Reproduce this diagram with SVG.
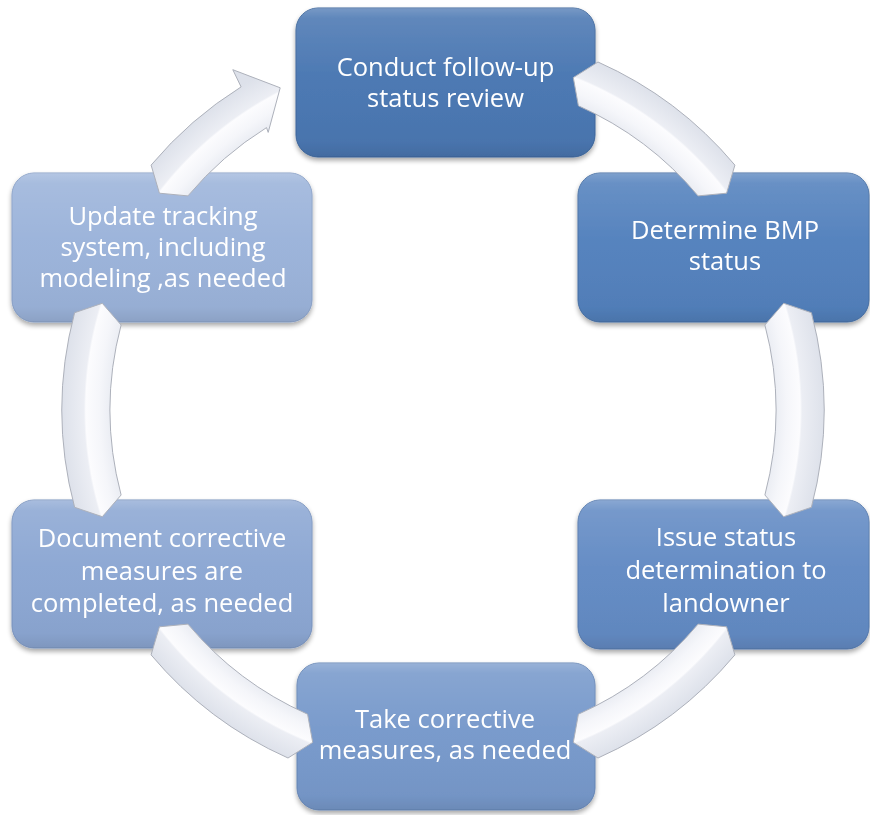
<svg xmlns="http://www.w3.org/2000/svg" width="870" height="815" viewBox="0 0 870 815">
  <defs>
    <linearGradient id="gloss" x1="0" y1="0" x2="0" y2="1">
      <stop offset="0" stop-color="#ffffff" stop-opacity="0.25"/>
      <stop offset="0.07" stop-color="#ffffff" stop-opacity="0.12"/>
      <stop offset="0.45" stop-color="#ffffff" stop-opacity="0.02"/>
      <stop offset="0.9" stop-color="#000000" stop-opacity="0.03"/>
      <stop offset="1" stop-color="#000000" stop-opacity="0.10"/>
    </linearGradient>
    <radialGradient id="ring" gradientUnits="userSpaceOnUse" cx="443" cy="410" r="382">
      <stop offset="0.86" stop-color="#e7eaf1"/>
      <stop offset="0.90" stop-color="#f5f6fa"/>
      <stop offset="0.935" stop-color="#fcfcfe"/>
      <stop offset="0.94" stop-color="#eceef4"/>
      <stop offset="1" stop-color="#dde1ea"/>
    </radialGradient>
    <filter id="shadow" x="-10%" y="-10%" width="120%" height="130%">
      <feGaussianBlur in="SourceAlpha" stdDeviation="2.5"/>
      <feOffset dx="0" dy="3" result="b"/>
      <feComponentTransfer><feFuncA type="linear" slope="0.35"/></feComponentTransfer>
      <feMerge><feMergeNode/><feMergeNode in="SourceGraphic"/></feMerge>
    </filter>
  </defs>
  <style>
    .box { stroke-width: 1; }
    .gl { fill: url(#gloss); stroke: none; }
    .lbl { font-family: "Open Sans", "Noto Sans", "Liberation Sans", sans-serif; font-size: 25.5px; fill: #ffffff; text-anchor: middle; }
    .arc { fill: url(#ring); stroke: #adb1bb; stroke-width: 1; stroke-linejoin: round; }
  </style>

  <g id="node-conduct" filter="url(#shadow)">
    <rect class="box" x="296" y="8" width="299" height="149" rx="22" fill="#4a77b2" stroke="#3e679c"/>
    <rect class="gl" x="296" y="8" width="299" height="149" rx="22"/>
    <text class="lbl" x="445.5" y="76">Conduct follow-up</text>
    <text class="lbl" x="445.5" y="107">status review</text>
  </g>

  <g id="node-determine" filter="url(#shadow)">
    <rect class="box" x="578" y="173" width="291" height="149" rx="22" fill="#5381bd" stroke="#466fa4"/>
    <rect class="gl" x="578" y="173" width="291" height="149" rx="22"/>
    <text class="lbl" x="725" y="239">Determine BMP</text>
    <text class="lbl" x="725" y="270">status</text>
  </g>

  <g id="node-issue" filter="url(#shadow)">
    <rect class="box" x="578" y="500" width="291" height="149" rx="22" fill="#638bc4" stroke="#5479ad"/>
    <rect class="gl" x="578" y="500" width="291" height="149" rx="22"/>
    <text class="lbl" x="726" y="546">Issue status</text>
    <text class="lbl" x="726" y="579">determination to</text>
    <text class="lbl" x="726" y="612">landowner</text>
  </g>

  <g id="node-take" filter="url(#shadow)">
    <rect class="box" x="297" y="663" width="298" height="147" rx="22" fill="#7799cb" stroke="#6686b6"/>
    <rect class="gl" x="297" y="663" width="298" height="147" rx="22"/>
    <text class="lbl" x="445" y="728">Take corrective</text>
    <text class="lbl" x="445" y="759">measures, as needed</text>
  </g>

  <g id="node-document" filter="url(#shadow)">
    <rect class="box" x="12" y="500" width="300" height="148" rx="22" fill="#8ca7d3" stroke="#7a94bf"/>
    <rect class="gl" x="12" y="500" width="300" height="148" rx="22"/>
    <text class="lbl" x="162" y="547">Document corrective</text>
    <text class="lbl" x="162" y="580">measures are</text>
    <text class="lbl" x="162" y="612">completed, as needed</text>
  </g>

  <g id="node-update" filter="url(#shadow)">
    <rect class="box" x="12" y="173" width="300" height="149" rx="22" fill="#9bb3da" stroke="#88a0c7"/>
    <rect class="gl" x="12" y="173" width="300" height="149" rx="22"/>
    <text class="lbl" x="163" y="225">Update tracking</text>
    <text class="lbl" x="163" y="256">system, including</text>
    <text class="lbl" x="163" y="287">modeling ,as needed</text>
  </g>

  <g id="connectors">
    <path id="a1" class="arc" d="M 573.3 77.6 L 598.0 62.0 A 381 381 0 0 1 734.9 165.1 L 726.6 193.2 L 698.1 195.9 A 333 333 0 0 0 578.4 105.8 Z"/>
    <path id="a2" class="arc" d="M 783.7 303.3 L 811.4 312.7 A 381 381 0 0 1 811.4 507.3 L 783.7 516.7 L 764.9 495.0 A 333 333 0 0 0 764.9 325.0 Z"/>
    <path id="a3" class="arc" transform="matrix(1 0 0 -1 0 820)" d="M 573.3 77.6 L 598.0 62.0 A 381 381 0 0 1 734.9 165.1 L 726.6 193.2 L 698.1 195.9 A 333 333 0 0 0 578.4 105.8 Z"/>
    <path id="a4" class="arc" transform="rotate(180 443 410)" d="M 573.3 77.6 L 598.0 62.0 A 381 381 0 0 1 734.9 165.1 L 726.6 193.2 L 698.1 195.9 A 333 333 0 0 0 578.4 105.8 Z"/>
    <path id="a5" class="arc" transform="matrix(-1 0 0 1 886 0)" d="M 783.7 303.3 L 811.4 312.7 A 381 381 0 0 1 811.4 507.3 L 783.7 516.7 L 764.9 495.0 A 333 333 0 0 0 764.9 325.0 Z"/>
    <path id="a6" class="arc" d="M 159.4 193.2 L 151.1 165.1 A 381 381 0 0 1 241.1 86.9 L 232.8 69.7 L 280.2 87.8 L 268.2 132.4 L 266.5 127.6 A 333 333 0 0 0 187.9 195.9 Z"/>
  </g>
</svg>
